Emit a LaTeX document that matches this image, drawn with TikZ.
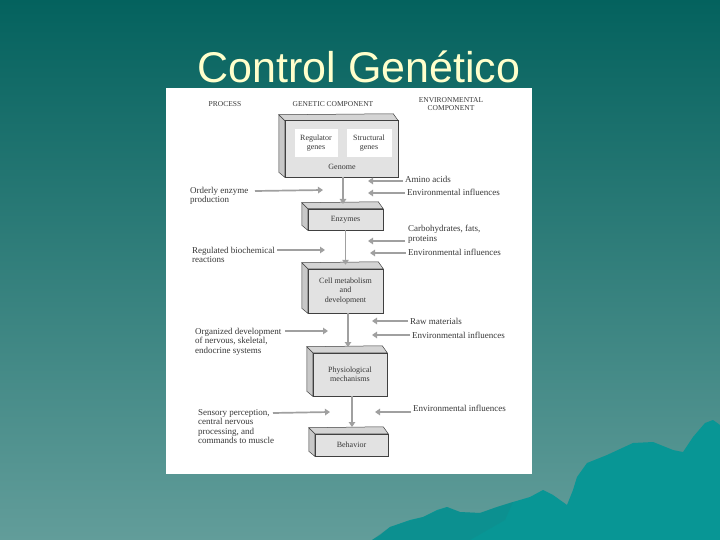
\documentclass[tikz,border=0pt]{standalone}
\usepackage{fontspec}
\setmainfont{Liberation Serif}
\newfontfamily\titlefont{Liberation Sans}
\usetikzlibrary{arrows.meta,calc}
\definecolor{bgtop}{RGB}{4,98,94}
\definecolor{bgbot}{RGB}{98,157,154}
\definecolor{mount}{RGB}{8,150,149}
\definecolor{mountdark}{RGB}{20,135,135}
\definecolor{titlecol}{RGB}{255,255,204}
\definecolor{ink}{RGB}{55,55,55}
\definecolor{arrcol}{RGB}{160,160,160}
\definecolor{facecol}{RGB}{226,226,226}
\definecolor{topcol}{RGB}{212,212,212}
\definecolor{sidecol}{RGB}{200,200,200}
\tikzset{
  txt/.style={font=\fontsize{9}{9.5}\selectfont, text=ink, inner sep=0pt, align=left},
  hdr/.style={font=\fontsize{7.5}{8.5}\selectfont, text=ink, inner sep=0pt, align=center},
  frontface/.style={draw=black!75, line width=0.5pt, fill=facecol, inner sep=0pt, align=center,
     font=\fontsize{8}{9.5}\selectfont, text=ink},
  topface/.style={draw=black!75, line width=0.5pt, fill=topcol},
  sideface/.style={draw=black!75, line width=0.5pt, fill=sidecol},
  genebox/.style={fill=white, draw=none, inner sep=0pt, align=center, font=\fontsize{8}{9}\selectfont, text=ink},
  arr/.style={draw=arrcol, line width=1.7pt, -{Triangle[length=5pt,width=6.5pt]}},
}
\newcommand{\boxdepth}[1]{%
  \filldraw[topface] (#1.north west) -- (#1.north east) -- ++(-5,-7) -- ($(#1.north west)+(-6,-6)$) -- cycle;
  \filldraw[sideface] (#1.north west) -- ($(#1.north west)+(-6,-6)$) -- ($(#1.south west)+(-6,-5)$) -- (#1.south west) -- cycle;
}
\begin{document}
\begin{tikzpicture}[x=1pt,y=-1pt]
\useasboundingbox (0,0) rectangle (720,540);
\shade[top color=bgtop, bottom color=bgbot] (0,0) rectangle (720,540);
% mountains
\fill[mount] (372,540) -- (380,535) -- (390,527) -- (410,520) -- (423,517) -- (437,510) -- (447,507)
  -- (460,512) -- (480,513) -- (497,507) -- (513,502) -- (530,497) -- (543,490) -- (553,495)
  -- (567,505) -- (573,490) -- (577,477) -- (587,463) -- (607,455) -- (633,443) -- (653,442)
  -- (673,450) -- (683,452) -- (693,437) -- (705,423) -- (713,420) -- (720,425) -- (720,540) -- cycle;
\fill[mountdark, opacity=0.35] (372,540) -- (390,527) -- (423,517) -- (447,507) -- (460,512)
  -- (480,513) -- (497,507) -- (513,502) -- (505,520) -- (470,540) -- cycle;
% title
\node[font=\titlefont\fontsize{43}{46}\selectfont, text=titlecol, anchor=base, inner sep=0pt] (title) at (359,83) {Control Genético};
% white panel
\fill[white] (166,88) rectangle (532,474);
% headers
\node[hdr] (hproc) at (225,104) {PROCESS};
\node[hdr] (hgen) at (333,104) {GENETIC COMPONENT};
\node[hdr] (henv) at (451,104) {ENVIRONMENTAL\\COMPONENT};
% boxes (front faces)
\node[frontface, minimum width=113pt, minimum height=56pt] (genome) at (341.5,149) {};
\boxdepth{genome}
\draw[black!75, line width=0.5pt, fill=facecol] (genome.north west) rectangle (genome.south east);
\node[genebox, minimum width=43pt, minimum height=28pt] (reg) at (316,143) {Regulator\\genes};
\node[genebox, minimum width=45pt, minimum height=28pt] (str) at (369,143) {Structural\\genes};
\node[txt, align=center, font=\fontsize{8}{9}\selectfont] (genlbl) at (342,167) {Genome};

\node[frontface, minimum width=75pt, minimum height=21pt] (enz) at (345.5,219.5) {Enzymes};
\boxdepth{enz}
\node[frontface, minimum width=75pt, minimum height=44pt] (cell) at (345.5,291) {Cell metabolism\\and\\development};
\boxdepth{cell}
\node[frontface, minimum width=74pt, minimum height=43pt] (phys) at (350,374.5) {Physiological\\mechanisms};
\boxdepth{phys}
\node[frontface, minimum width=73pt, minimum height=22pt] (beh) at (351.5,445) {Behavior};
\boxdepth{beh}
% vertical arrows
\draw[arr] (343,177) -- (343,204);
\draw[arr] (enz.south) -- ([yshift=4pt]enz.south |- cell.north);
\draw[arr] (348,313) -- (348,347);
\draw[arr] (352,396) -- (352,427);
% left labels
\node[txt, anchor=north west] (l1) at (190,187) {Orderly enzyme\\production};
\node[txt, anchor=north west] (l2) at (192,247) {Regulated biochemical\\reactions};
\node[txt, anchor=north west] (l3) at (195,328) {Organized development\\of nervous, skeletal,\\endocrine systems};
\node[txt, anchor=north west] (l4) at (198,409) {Sensory perception,\\central nervous\\processing, and\\commands to muscle};
\coordinate (t1) at (323,190);
\coordinate (t2) at (325,250);
\coordinate (t3) at (328,331);
\coordinate (t4) at (330,412);
\draw[arr] (255,191) -- (t1);
\draw[arr] (277,250) -- (t2);
\draw[arr] (285,331) -- (t3);
\draw[arr] (273,413) -- (t4);
% right labels
\node[txt, anchor=west] (r1) at (405,179) {Amino acids};
\node[txt, anchor=west] (r2) at (407,192) {Environmental influences};
\node[txt, anchor=north west] (r3) at (408,225) {Carbohydrates, fats,\\proteins};
\node[txt, anchor=west] (r4) at (408,252) {Environmental influences};
\node[txt, anchor=west] (r5) at (410,321) {Raw materials};
\node[txt, anchor=west] (r6) at (412,335) {Environmental influences};
\node[txt, anchor=west] (r7) at (413,408) {Environmental influences};
\coordinate (s1) at (368,181);
\coordinate (s2) at (368,193);
\coordinate (s3) at (368,241);
\coordinate (s4) at (370,253);
\coordinate (s5) at (372,321);
\coordinate (s6) at (372,335);
\coordinate (s7) at (375,412);
\draw[arr] ([xshift=-2pt,yshift=-2pt]r1.west) -- (s1);
\draw[arr] ([xshift=-2pt,yshift=-1pt]r2.west) -- (s2);
\draw[arr] (405,241) -- (s3);
\draw[arr] ([xshift=-2pt,yshift=-1pt]r4.west) -- (s4);
\draw[arr] ([xshift=-2pt]r5.west) -- (s5);
\draw[arr] ([xshift=-2pt]r6.west) -- (s6);
\draw[arr] ([xshift=-2pt,yshift=-4pt]r7.west) -- (s7);
\end{tikzpicture}
\end{document}
